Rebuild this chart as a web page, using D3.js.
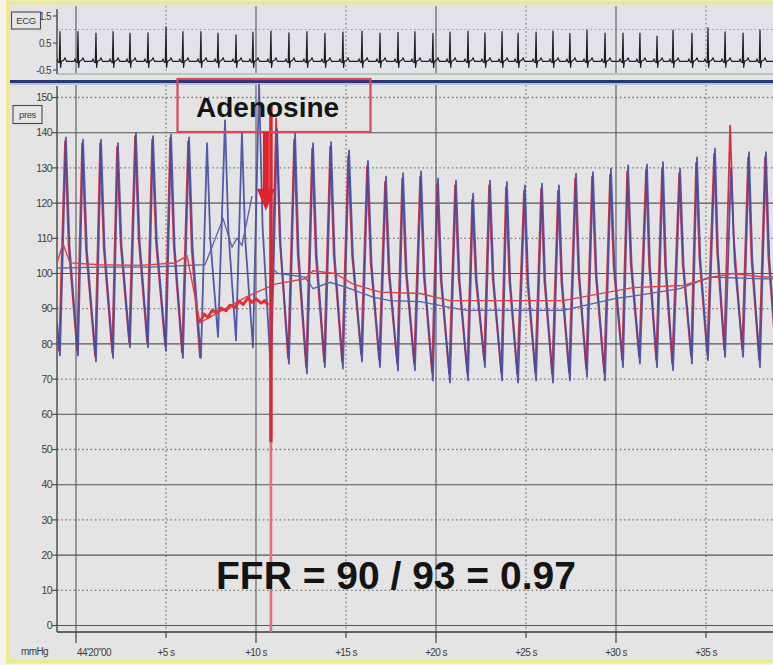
<!DOCTYPE html>
<html>
<head>
<meta charset="utf-8">
<script src="https://cdn.jsdelivr.net/npm/d3@7"></script>
<style>
  html, body { margin: 0; padding: 0; background: #fff; }
  svg { display: block; font-family: "Liberation Sans", Arial, sans-serif; }
</style>
</head>
<body>
<svg id="chart" width="773" height="665"></svg>
<script>
// ---- Beat timing (seconds from 44'20"00) ----
const beatOnsetT = [-0.89,0.11,1.11,2.06,3.0,4.0,5.0,5.94,6.94,7.89,
  8.89,9.83,10.83,11.83,12.83,13.83,14.83,15.89,16.89,17.89,
  18.83,19.83,20.78,21.78,22.72,23.67,24.56,25.56,26.5,27.44,
  28.39,29.39,30.39,31.33,32.28,33.17,34.22,35.11,36.06,37.06,38.0];
const beatPeakT = [-0.56,0.39,1.39,2.33,3.33,4.28,5.28,6.28,7.28,8.28,
  9.22,10.17,11.17,12.17,13.17,14.17,15.17,16.22,17.22,18.17,
  19.17,20.11,21.11,22.06,23.0,23.94,24.94,25.89,26.83,27.78,
  28.72,29.72,30.67,31.72,32.61,33.56,34.5,35.5,36.39,37.39,38.33];

// ---- Distal pressure Pd (mmHg), per beat ----
const pdSystolic = [138.7,138,138,137,140,139,139.5,138.7,137,143.5,
  140,154,141,139.7,137,137.3,135,132,127.5,128.5,
  129,127,126.4,122.7,126.4,126,125,125.5,125,128.4,
  128.8,129.8,130.7,131,131.6,129.8,133,135.5,130,134.5,134.5];
const pdDiastolic = [76.7,76.7,75,76,79,79,78,76,76,82,
  81,79,72,74.4,71.6,73.4,73,75,73.4,72.4,
  72.5,69.6,69,69.6,73.4,69.6,69,69.6,69,69.6,
  70.6,69.6,73.4,74.4,73.4,72.5,74.4,75.4,76.3,76.3,73.4];

// ---- Aortic pressure Pa (mmHg), per beat (null: no phasic signal) ----
const paSystolic = [137.5,137,137,136,139,138,138.5,137.5,null,null,
  null,null,144,138,135.5,136,133.5,130.5,126,127,
  127.5,125.5,125,121,125,124.5,123.5,124,123.5,127,
  127.5,128,129,129.5,130,128.5,131.5,134,142,133,133];
const paDiastolic = [78,78,76.5,77.5,80.5,80.5,79.5,77.5,null,null,
  null,null,73,76,73.5,75,75,77,75.5,74.5,
  74.5,72,71.5,72,75.5,72,71.5,72,71.5,72,
  73,72,75.5,76.5,75.5,74.5,76.5,77.5,78.5,78.5,75.5];

// ---- Mean pressures [t, mmHg] ----
const paMean = [[-1.06,103],[-0.72,108.5],[-0.33,103],[1.33,102.5],[3.56,102.3],
  [5.5,103],[6.17,105],[6.89,86],[9.44,93.3],[11.06,97],[12.72,98.5],
  [13.17,100.8],[14.39,100],[15.39,97],[16.89,94.7],[19.11,94.3],[20.78,92.3],
  [27.06,92.3],[30.94,96],[33.72,96.6],[35.39,99],[36.5,100],[38.17,99],[38.8,99]];
const pdMean = [[-1.06,101.5],[1.33,101.8],[4.11,101.8],[7.17,102.5],[8.17,115.6],
  [8.67,107.5],[8.94,110],[9.22,108],[9.78,122],[10.0,null],
  [10.78,102],[11.22,100],[12.72,99],[13.17,95.7],[14.11,97.5],[15.06,96],
  [16.5,93.3],[17.44,92.3],[19.11,92],[20.78,90.4],[21.72,89.5],[27.06,89.5],
  [30.06,93],[30.94,93.6],[33.56,95.7],[35.22,99],[38.17,98.5],[38.8,98.5]];
// damped aortic trace before the injection
const paDamped = [[6.89,86],[7.11,88.5],[7.33,87.5],[7.56,89.5],[7.83,88.8],[8.06,90.2],
  [8.33,89.4],[8.56,91],[8.83,90.3],[9.06,92.2],[9.28,91.2],[9.56,93],[9.78,91.8],
  [10.0,92.8],[10.28,91.6],[10.5,92.3],[10.67,91]];
// flush artefact at injection
const flushT = 10.83;
const flushLevels = [148, 52, -1.8];

// ---- ECG (mV) ----
const ecgRAmplitude = [1.10,1.10,1.05,1.10,1.05,1.06,1.28,1.10,1.10,1.05,
  0.98,1.08,1.12,1.06,1.10,1.04,1.08,1.12,1.05,1.07,
  1.10,1.04,1.08,1.12,1.06,1.10,1.05,1.08,1.12,1.04,
  1.16,1.05,1.05,1.05,0.94,1.16,1.05,1.24,1.09,1.05,1.16];
const ecgBaseline = -0.18;

// ---- Axis ticks ----
const pressureTicks = d3.range(0, 151, 10);
const ecgTicks = [1.5, 0.5, -0.5];
const timeTicks = [0, 5, 10, 15, 20, 25, 30, 35];
const timeLabels = ["44'20\"00", "+5 s", "+10 s", "+15 s", "+20 s", "+25 s", "+30 s", "+35 s"];

const ffrText = "FFR = 90 / 93 = 0.97";
const injectionLabel = "Adenosine";

// ================= drawing =================
const W = 773, H = 665;
const plotL = 57, plotR = 773;
const presTop = 85, presBot = 632;
const ecgTop = 6, ecgBot = 75;

const x = d3.scaleLinear().domain([0, 35]).range([76, 706]);
const yP = d3.scaleLinear().domain([0, 150]).range([625.5, 97.5]);
const yE = d3.scaleLinear().domain([-0.5, 1.5]).range([70, 16]);

const svg = d3.select('#chart');

// frame and backgrounds
svg.append('rect').attr('width', W).attr('height', H).attr('fill', '#f3f3ec');
svg.append('rect').attr('x', 8).attr('y', 2.5).attr('width', W).attr('height', 659)
  .attr('fill', '#e4e4e4').attr('stroke', '#efe98e').attr('stroke-width', 4);
svg.append('rect').attr('x', plotL).attr('y', ecgTop).attr('width', plotR - plotL)
  .attr('height', ecgBot - ecgTop).attr('fill', '#e1e2ea');

const defs = svg.append('defs');
defs.append('clipPath').attr('id', 'clipP').append('rect')
  .attr('x', plotL).attr('y', 84).attr('width', plotR - plotL).attr('height', presBot - 84);
defs.append('clipPath').attr('id', 'clipE').append('rect')
  .attr('x', plotL).attr('y', ecgTop).attr('width', plotR - plotL).attr('height', ecgBot - ecgTop);

const solid = '#565656', dotted = '#7a7a7a';

// ---- pressure panel grid ----
const gP = svg.append('g');
gP.selectAll('line.h').data(pressureTicks).join('line')
  .attr('x1', plotL).attr('x2', plotR)
  .attr('y1', d => yP(d)).attr('y2', d => yP(d))
  .attr('stroke', d => d % 20 === 0 ? solid : dotted)
  .attr('stroke-width', d => d % 20 === 0 ? 1.1 : 1.3)
  .attr('stroke-dasharray', d => d % 20 === 0 ? null : '1.6,2.6');
gP.selectAll('line.v').data(timeTicks).join('line')
  .attr('x1', d => x(d)).attr('x2', d => x(d))
  .attr('y1', presTop).attr('y2', presBot)
  .attr('stroke', d => d % 10 === 0 ? solid : dotted)
  .attr('stroke-width', d => d % 10 === 0 ? 1.1 : 1.3)
  .attr('stroke-dasharray', d => d % 10 === 0 ? null : '1.6,2.6');

// ---- ECG panel grid ----
const gE = svg.append('g');
gE.append('line').attr('x1', plotL).attr('x2', plotR).attr('y1', yE(1.0)).attr('y2', yE(1.0))
  .attr('stroke', '#9a9aa6').attr('stroke-width', 1.2).attr('stroke-dasharray', '1.6,2.6');
gE.append('line').attr('x1', plotL).attr('x2', plotR).attr('y1', 74).attr('y2', 74)
  .attr('stroke', '#9fc89a').attr('stroke-width', 1.5);
gE.selectAll('line.v').data(timeTicks).join('line')
  .attr('x1', d => x(d)).attr('x2', d => x(d))
  .attr('y1', ecgTop).attr('y2', 73)
  .attr('stroke', d => d % 10 === 0 ? solid : '#8a8a96')
  .attr('stroke-width', d => d % 10 === 0 ? 1.1 : 1.3)
  .attr('stroke-dasharray', d => d % 10 === 0 ? null : '1.6,2.6');

// ---- axes lines ----
svg.append('line').attr('x1', plotL).attr('x2', plotL).attr('y1', 86).attr('y2', presBot)
  .attr('stroke', '#3a3a3a').attr('stroke-width', 1.3);
svg.append('line').attr('x1', plotL).attr('x2', plotL).attr('y1', 9).attr('y2', 74)
  .attr('stroke', '#3a3a3a').attr('stroke-width', 1.3);
svg.append('line').attr('x1', plotL).attr('x2', plotR).attr('y1', presBot).attr('y2', presBot)
  .attr('stroke', '#3a3a3a').attr('stroke-width', 1.3);

// pressure axis ticks & labels
const yAxis = svg.append('g');
yAxis.selectAll('line').data(pressureTicks).join('line')
  .attr('x1', plotL - 5).attr('x2', plotL).attr('y1', d => yP(d)).attr('y2', d => yP(d))
  .attr('stroke', '#444').attr('stroke-width', 1.1);
yAxis.selectAll('text').data(pressureTicks).join('text')
  .attr('x', plotL - 5).attr('y', d => yP(d) + 3.6)
  .attr('text-anchor', 'end').attr('font-size', 10.5).attr('fill', '#3e3e3e')
  .attr('letter-spacing', -0.6)
  .text(d => d);

// ECG axis ticks & labels
const eAxis = svg.append('g');
eAxis.selectAll('line').data(ecgTicks).join('line')
  .attr('x1', plotL - 4).attr('x2', plotL).attr('y1', d => yE(d)).attr('y2', d => yE(d))
  .attr('stroke', '#444').attr('stroke-width', 1.1);
eAxis.selectAll('text').data(ecgTicks).join('text')
  .attr('x', plotL - 6).attr('y', d => yE(d) + 3.5)
  .attr('text-anchor', 'end').attr('font-size', 10).attr('fill', '#3e3e3e')
  .attr('letter-spacing', -0.6)
  .text(d => d);

// time axis ticks & labels
const xAxis = svg.append('g');
xAxis.selectAll('line').data(timeTicks).join('line')
  .attr('x1', d => x(d)).attr('x2', d => x(d))
  .attr('y1', presBot).attr('y2', d => d % 10 === 0 ? presBot + 11 : presBot + 6)
  .attr('stroke', '#444').attr('stroke-width', 1.2);
xAxis.selectAll('text').data(timeTicks).join('text')
  .attr('x', (d, i) => i === 0 ? x(d) + 1 : x(d))
  .attr('y', 656)
  .attr('text-anchor', (d, i) => i === 0 ? 'start' : 'middle')
  .attr('font-size', 10).attr('fill', '#3e3e3e').attr('letter-spacing', -0.6)
  .text((d, i) => timeLabels[i]);
svg.append('text').attr('x', 21).attr('y', 655).attr('font-size', 10)
  .attr('fill', '#3e3e3e').attr('letter-spacing', -0.6).text('mmHg');

// channel name boxes
function channelBox(bx, by, bw, bh, label) {
  svg.append('rect').attr('x', bx).attr('y', by).attr('width', bw).attr('height', bh)
    .attr('fill', '#e6e6e6').attr('stroke', '#4a4a4a').attr('stroke-width', 1.1);
  svg.append('text').attr('x', bx + bw / 2).attr('y', by + bh / 2 + 3.3)
    .attr('text-anchor', 'middle').attr('font-size', 9.5).attr('fill', '#3a3a3a')
    .attr('letter-spacing', -0.4).text(label);
}
channelBox(11.5, 12, 29, 17, 'ECG');
channelBox(13, 105.5, 29, 18, 'pres');

// panel separator
svg.append('line').attr('x1', 10).attr('x2', W).attr('y1', 81.5).attr('y2', 81.5)
  .attr('stroke', '#2b3673').attr('stroke-width', 3);
svg.append('line').attr('x1', 10).attr('x2', W).attr('y1', 84).attr('y2', 84)
  .attr('stroke', '#aab6dc').attr('stroke-width', 1.4);

// ---- ECG trace ----
const ecgPts = [[x.invert(plotL), ecgBaseline]];
beatOnsetT.forEach((r, i) => {
  const b = ecgBaseline, a = ecgRAmplitude[i];
  ecgPts.push([r - 0.22, b], [r - 0.17, b + 0.09], [r - 0.12, b], [r - 0.04, b - 0.05],
    [r, b + a], [r + 0.035, b - 0.22], [r + 0.08, b], [r + 0.2, b + 0.04],
    [r + 0.28, b + 0.13], [r + 0.36, b]);
});
ecgPts.push([x.invert(plotR) + 0.5, ecgBaseline]);
const ecgLine = d3.line().x(d => x(d[0])).y(d => yE(d[1]));
svg.append('path').attr('clip-path', 'url(#clipE)').attr('d', ecgLine(ecgPts))
  .attr('fill', 'none').attr('stroke', '#1e1e1e').attr('stroke-width', 1.2)
  .attr('stroke-linejoin', 'round');

// ---- phasic pressure traces ----
const tailT = 38.95, tailPd = 74, tailPa = 76;
function phasic(sys, dia, tail) {
  const pts = [];
  for (let i = 0; i < sys.length; i++) {
    if (sys[i] == null) { pts.push([beatOnsetT[i], null]); continue; }
    pts.push([beatOnsetT[i], dia[i]], [beatPeakT[i], sys[i]]);
    const nT = i + 1 < sys.length ? beatOnsetT[i + 1] : tailT;
    let nV = i + 1 < sys.length ? dia[i + 1] : tail;
    if (nV == null) nV = pdDiastolic[i + 1];
    pts.push([beatPeakT[i] + 0.3 * (nT - beatPeakT[i]), nV + 0.5 * (sys[i] - nV)]);
    if (i + 1 < sys.length && dia[i + 1] == null) pts.push([nT, nV]);
  }
  pts.push([tailT, tail]);
  return pts;
}
const pdPts = [[x.invert(plotL), 86]].concat(phasic(pdSystolic, pdDiastolic, tailPd));
const paPts = [[x.invert(plotL), 87]].concat(phasic(paSystolic, paDiastolic, tailPa));

const paLag = -0.05;
const lineP = d3.line().defined(d => d[1] != null).x(d => x(d[0])).y(d => yP(d[1]));
const linePaLag = d3.line().defined(d => d[1] != null).x(d => x(d[0] + paLag)).y(d => yP(d[1]));

const gTr = svg.append('g').attr('clip-path', 'url(#clipP)');
gTr.append('path').attr('d', linePaLag(paPts)).attr('fill', 'none')
  .attr('stroke', '#d8303e').attr('stroke-width', 1.8).attr('stroke-linejoin', 'round');
gTr.append('path').attr('d', lineP(pdPts)).attr('fill', 'none')
  .attr('stroke', '#434ba2').attr('stroke-width', 1.8).attr('stroke-opacity', 0.9)
  .attr('stroke-linejoin', 'round');

// mean traces
gTr.append('path').attr('d', lineP(pdMean)).attr('fill', 'none')
  .attr('stroke', '#5560a8').attr('stroke-width', 1.3);
gTr.append('path').attr('d', lineP(paMean)).attr('fill', 'none')
  .attr('stroke', '#d9404a').attr('stroke-width', 1.4);
gTr.append('path').attr('d', lineP(paDamped)).attr('fill', 'none')
  .attr('stroke', '#e1323c').attr('stroke-width', 3).attr('stroke-linejoin', 'round');

// flush artefact
svg.append('line').attr('x1', x(flushT)).attr('x2', x(flushT))
  .attr('y1', yP(flushLevels[1])).attr('y2', yP(flushLevels[2]))
  .attr('stroke', '#e0707c').attr('stroke-width', 2.6);
svg.append('line').attr('x1', x(flushT)).attr('x2', x(flushT))
  .attr('y1', yP(flushLevels[0])).attr('y2', yP(flushLevels[1]))
  .attr('stroke', '#d42a36').attr('stroke-width', 3.5);

// ---- injection annotation ----
svg.append('rect').attr('x', 177.5).attr('y', 79).attr('width', 193).attr('height', 53)
  .attr('fill', 'none').attr('stroke', '#d9485a').attr('stroke-width', 2.2);
svg.append('text').attr('x', 196).attr('y', 116.5).attr('font-size', 28)
  .attr('font-weight', 'bold').attr('fill', '#141414').text(injectionLabel);
const arrowT = 10.55, arrowTip = 117.8;
const ax = x(arrowT), tipY = yP(arrowTip);
svg.append('line').attr('x1', ax).attr('x2', ax).attr('y1', 132).attr('y2', tipY - 16)
  .attr('stroke', '#e0222c').attr('stroke-width', 6);
svg.append('path')
  .attr('d', `M${ax - 9},${tipY - 22} L${ax + 9},${tipY - 22} L${ax},${tipY} Z`)
  .attr('fill', '#e0222c');

// FFR result
svg.append('text').attr('x', 216).attr('y', 589).attr('font-size', 39)
  .attr('font-weight', 'bold').attr('fill', '#141414').text(ffrText);
</script>
</body>
</html>
